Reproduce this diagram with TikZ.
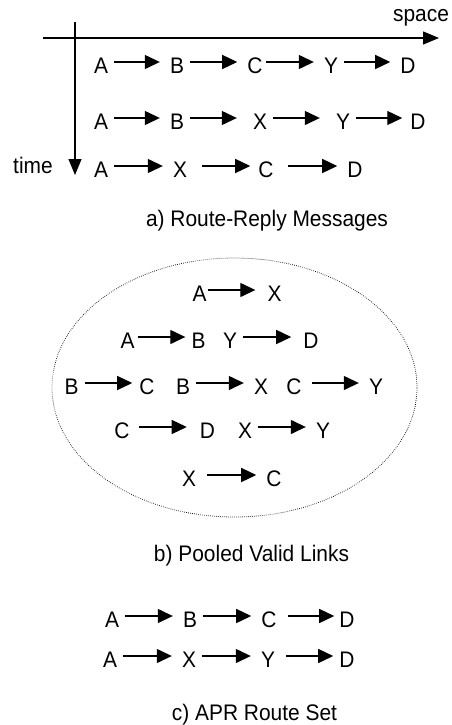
\documentclass[tikz,border=0pt]{standalone}
\usepackage{fontspec}
\setmainfont{Liberation Sans}[FakeStretch=0.93]
\usetikzlibrary{arrows.meta}

\begin{document}
\begin{tikzpicture}[x=1pt, y=-1pt,
	every node/.style={font=\fontsize{22.5}{26}\selectfont, inner sep=0pt},
	hop/.style={text height=23pt, text depth=0pt},
	link/.style={-{Triangle[length=15pt, width=14pt]}, line width=1.3pt, shorten <=6pt, shorten >=10pt},
	axis/.style={-{Triangle[length=16pt, width=13pt]}, line width=1.3pt},
	pool/.style={line width=0.8pt, dash pattern=on 0.6pt off 1.4pt}]
\useasboundingbox (0,0) rectangle (451,725);

	% axes
	\coordinate (o1) at (43,38);
	\coordinate (o2) at (439,38);
	\coordinate (o3) at (75,22);
	\coordinate (o4) at (75,175);
	\draw[axis] (o1) -- (o2);
	\draw[axis] (o3) -- (o4);
	\node[anchor=base] (space) at (421,22) {space};
	\node[anchor=base] (time) at (33,173) {time};

	% a) route-reply messages
	\node[hop] (r1a) at (101,62) {A};
	\node[hop] (r1b) at (177,62) {B};
	\node[hop] (r1c) at (255,62) {C};
	\node[hop] (r1d) at (331,62) {Y};
	\node[hop] (r1e) at (408,62) {D};

	\node[hop] (r2a) at (101,118) {A};
	\node[hop] (r2b) at (177,118) {B};
	\node[hop] (r2c) at (260,118) {X};
	\node[hop] (r2d) at (343,118) {Y};
	\node[hop] (r2e) at (418,118) {D};

	\node[hop] (r3a) at (101,166) {A};
	\node[hop] (r3b) at (180,166) {X};
	\node[hop] (r3c) at (266,166) {C};
	\node[hop] (r3d) at (355,166) {D};

	\draw[link] (r1a) -- (r1b);
	\draw[link] (r1b) -- (r1c);
	\draw[link, shorten <=3pt] (r1c) -- (r1d);
	\draw[link] (r1d) -- (r1e);
	\draw[link] (r2a) -- (r2b);
	\draw[link, shorten >=16pt] (r2b) -- (r2c);
	\draw[link, shorten >=16pt] (r2c) -- (r2d);
	\draw[link, shorten >=8pt] (r2d) -- (r2e);
	\draw[link] (r3a) -- (r3b);
	\draw[link, shorten <=15pt, shorten >=8pt] (r3b) -- (r3c);
	\draw[link, shorten <=14pt] (r3c) -- (r3d);

	\node[anchor=base] (capa) at (267,226) {a) Route-Reply Messages};

	% b) pooled valid links
	\draw[pool] (234.5,387.5) ellipse [x radius=182.5pt, y radius=129.5pt];

	\node[hop] (v1a) at (199.5,290) {A};
	\node[hop] (v1b) at (274.5,290) {X};

	\node[hop] (v2a) at (127.5,337) {A};
	\node[hop] (v2b) at (198.5,337) {B};
	\node[hop] (v2c) at (230,337) {Y};
	\node[hop] (v2d) at (311,337) {D};

	\node[hop] (v3a) at (71.5,383) {B};
	\node[hop] (v3b) at (147,383) {C};
	\node[hop] (v3c) at (183,383) {B};
	\node[hop] (v3d) at (261,383) {X};
	\node[hop] (v3e) at (294,383) {C};
	\node[hop] (v3f) at (376,383) {Y};

	\node[hop] (v4a) at (122,427) {C};
	\node[hop] (v4b) at (207.5,427) {D};
	\node[hop] (v4c) at (245,427) {X};
	\node[hop] (v4d) at (323,427) {Y};

	\node[hop] (v5a) at (189,475) {X};
	\node[hop] (v5b) at (274,475) {C};

	\draw[link, shorten <=1pt, shorten >=12pt] (v1a) -- (v1b);
	\draw[link, shorten <=3pt, shorten >=6pt] (v2a) -- (v2b);
	\draw[link, shorten >=12pt] (v2c) -- (v2d);
	\draw[link, shorten >=7pt] (v3a) -- (v3b);
	\draw[link] (v3c) -- (v3d);
	\draw[link, shorten <=10pt] (v3e) -- (v3f);
	\draw[link, shorten <=9pt, shorten >=13pt] (v4a) -- (v4b);
	\draw[link] (v4c) -- (v4d);
	\draw[link, shorten <=11pt] (v5a) -- (v5b);

	\node[anchor=base] (capb) at (251.5,561) {b) Pooled Valid Links};

	% c) APR route set
	\node[hop] (s1a) at (112,616) {A};
	\node[hop] (s1b) at (190,616) {B};
	\node[hop] (s1c) at (269,616) {C};
	\node[hop] (s1d) at (347,616) {D};

	\node[hop] (s2a) at (110,656) {A};
	\node[hop] (s2b) at (189,656) {X};
	\node[hop] (s2c) at (268,656) {Y};
	\node[hop] (s2d) at (347,656) {D};

	\draw[link] (s1a) -- (s1b);
	\draw[link] (s1b) -- (s1c);
	\draw[link, shorten <=11pt, shorten >=5pt] (s1c) -- (s1d);
	\draw[link] (s2a) -- (s2b);
	\draw[link] (s2b) -- (s2c);
	\draw[link, shorten <=11pt, shorten >=6pt] (s2c) -- (s2d);

	\node[anchor=base] (capc) at (254.5,720) {c) APR Route Set};
\end{tikzpicture}
\end{document}
